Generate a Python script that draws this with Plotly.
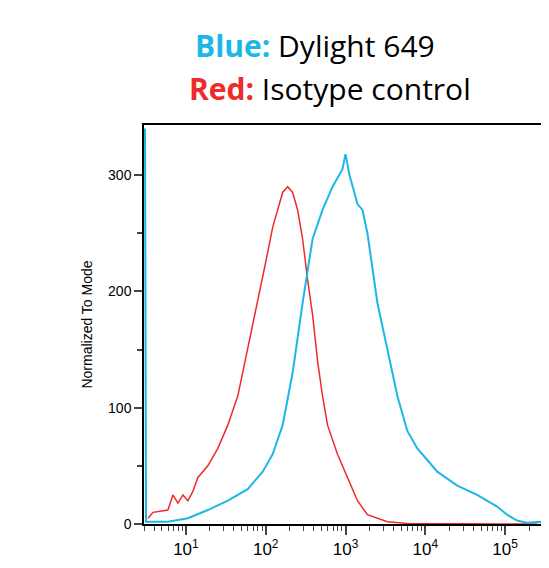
import plotly.graph_objects as go

px_to_log = lambda p: (p - 178) / 80 + 1

red_px = [140, 145, 160, 165, 170, 175, 180, 185, 190, 200, 210, 220, 230, 240, 250, 258, 265, 275, 280, 285, 290, 295, 300, 305, 310, 315, 320, 330, 340, 350, 360, 380, 400, 450, 500, 530]
red_y = [5, 10, 12, 25, 18, 25, 20, 28, 40, 50, 65, 85, 110, 150, 190, 225, 255, 285, 290, 285, 270, 245, 210, 180, 140, 110, 85, 60, 40, 20, 8, 2, 0.5, 0, 0, 0]
blue_px = [137, 138, 160, 180, 200, 220, 240, 255, 265, 275, 285, 295, 305, 315, 325, 335, 338, 342, 350, 355, 360, 365, 370, 380, 390, 400, 410, 420, 430, 450, 470, 490, 500, 510, 520, 537]
blue_y = [340, 2, 2, 5, 12, 20, 30, 45, 60, 85, 130, 190, 245, 270, 290, 305, 318, 300, 275, 270, 250, 220, 190, 150, 110, 80, 65, 55, 45, 33, 25, 15, 8, 3, 1, 2]

red_x = [10 ** px_to_log(p) for p in red_px]
blue_x = [10 ** px_to_log(p) for p in blue_px]

fig = go.Figure()
fig.add_trace(go.Scatter(x=red_x, y=red_y, mode="lines", line=dict(color="#EE2A2A", width=1.5)))
fig.add_trace(go.Scatter(x=blue_x, y=blue_y, mode="lines", line=dict(color="#1DB7E6", width=2)))

fig.update_layout(
    width=549, height=568, showlegend=False,
    plot_bgcolor="white", paper_bgcolor="white",
    margin=dict(l=136, r=12, t=117, b=52),
    font=dict(family="Liberation Sans", color="black"),
    xaxis=dict(type="log", range=[0.475, 5.5], showgrid=False, zeroline=False, automargin=False,
               showline=True, linecolor="black", linewidth=1.5, mirror=True,
               ticks="outside", ticklen=9, tickwidth=2,
               tickvals=[10, 100, 1000, 10000, 100000],
               ticktext=["10<sup>1</sup>", "10<sup>2</sup>", "10<sup>3</sup>", "10<sup>4</sup>", "10<sup>5</sup>"],
               tickfont=dict(size=17),
               minor=dict(ticks="outside", ticklen=5, tickwidth=1, dtick="D1", showgrid=False)),
    yaxis=dict(range=[0, 343], showgrid=False, zeroline=False, automargin=False,
               showline=True, linecolor="black", linewidth=1.5, mirror=True,
               ticks="outside", ticklen=8, tickwidth=2, tickvals=[0, 100, 200, 300],
               tickfont=dict(size=14),
               minor=dict(ticks="outside", ticklen=5, dtick=50, showgrid=False),
               title=dict(text="Normalized To Mode", font=dict(size=14), standoff=12)),
)
fig.add_annotation(xref="paper", yref="paper", xanchor="center", x=(307-136)/401, y=1 + (117-38)/399, yanchor="middle",
                   showarrow=False, font=dict(size=30, family="Open Sans"),
                   text="<b><span style='color:#1DB7E6'>Blue:</span></b> Dylight 649")
fig.add_annotation(xref="paper", yref="paper", xanchor="center", x=(322-136)/401, y=1 + (117-80)/399, yanchor="middle",
                   showarrow=False, font=dict(size=30, family="Open Sans"),
                   text="<b><span style='color:#EE2A2A'>Red:</span></b> Isotype control")
fig.write_html("out.html")
